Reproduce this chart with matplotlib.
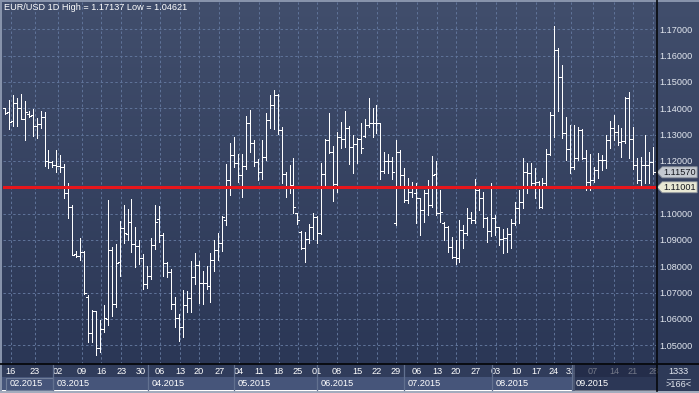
import numpy as np
import matplotlib
matplotlib.use("Agg")
import matplotlib.pyplot as plt
from matplotlib.patches import Rectangle, Polygon

plt.rcParams['font.family'] = ['Liberation Sans', 'DejaVu Sans']

# ---------------- data (EUR/USD daily) ----------------
opens = [
    1.1400, 1.1385, 1.1350, 1.1419, 1.1400, 1.1359, 1.1377, 1.1375, 1.1334, 1.1340,
    1.1366, 1.1200, 1.1195, 1.1185, 1.1182, 1.1178, 1.1077, 1.1026, 1.0846, 1.0840,
    1.0855, 1.0685, 1.0545, 1.0630, 1.0489, 1.0560, 1.0599, 1.0862, 1.0655, 1.0815,
    1.0944, 1.0922, 1.0967, 1.0885, 1.0877, 1.0830, 1.0732, 1.0763, 1.0881, 1.0980,
    1.0918, 1.0814, 1.0777, 1.0657, 1.0602, 1.0568, 1.0653, 1.0678, 1.0758, 1.0805,
    1.0735, 1.0735, 1.0725, 1.0824, 1.0862, 1.0887, 1.0976, 1.1128, 1.1223, 1.1191,
    1.1147, 1.1181, 1.1345, 1.1269, 1.1197, 1.1159, 1.1214, 1.1356, 1.1413, 1.1451,
    1.1318, 1.1151, 1.1100, 1.1109, 1.1001, 1.0930, 1.0868, 1.0903, 1.0950, 1.0988,
    1.0925, 1.1149, 1.1280, 1.1235, 1.1111, 1.1292, 1.1282, 1.1324, 1.1254, 1.1264,
    1.1282, 1.1295, 1.1337, 1.1345, 1.1345, 1.1343, 1.1163, 1.1201, 1.1201, 1.0965,
    1.1235, 1.1147, 1.1052, 1.1083, 1.1080, 1.1058, 1.1014, 1.1077, 1.1033, 1.1150,
    1.1004, 1.0965, 1.0948, 1.0872, 1.0836, 1.0830, 1.0938, 1.0925, 1.0982, 1.0976,
    1.1090, 1.1058, 1.0982, 1.0935, 1.0982, 1.0948, 1.0903, 1.0906, 1.0922, 1.0963,
    1.1020, 1.1045, 1.1159, 1.1153, 1.1115, 1.1121, 1.1026, 1.1118, 1.1228, 1.1375,
    1.1621, 1.1520, 1.1308, 1.1246, 1.1178, 1.1210, 1.1318, 1.1213, 1.1121, 1.1128,
    1.1166, 1.1204, 1.1204, 1.1280, 1.1324, 1.1311, 1.1273, 1.1276, 1.1438, 1.1285,
    1.1185, 1.1128, 1.1185, 1.1185, 1.1197,
]
highs = [
    1.1402, 1.1433, 1.1451, 1.1438, 1.1453, 1.1428, 1.1390, 1.1396, 1.1362, 1.1389,
    1.1385, 1.1242, 1.1200, 1.1242, 1.1223, 1.1187, 1.1115, 1.1033, 1.0858, 1.0906,
    1.0858, 1.0690, 1.0634, 1.0632, 1.0596, 1.0653, 1.1050, 1.0872, 1.0885, 1.0973,
    1.1033, 1.1016, 1.1054, 1.0948, 1.0900, 1.0847, 1.0801, 1.0906, 1.1033, 1.1029,
    1.0925, 1.0816, 1.0789, 1.0682, 1.0619, 1.0710, 1.0707, 1.0821, 1.0852, 1.0821,
    1.0783, 1.0801, 1.0849, 1.0900, 1.0925, 1.0991, 1.1188, 1.1269, 1.1290, 1.1226,
    1.1226, 1.1371, 1.1394, 1.1280, 1.1206, 1.1280, 1.1383, 1.1451, 1.1470, 1.1455,
    1.1330, 1.1160, 1.1185, 1.1210, 1.1003, 1.0935, 1.0931, 1.0961, 1.1003, 1.0991,
    1.1193, 1.1282, 1.1383, 1.1255, 1.1311, 1.1349, 1.1391, 1.1333, 1.1299, 1.1286,
    1.1345, 1.1358, 1.1438, 1.1400, 1.1413, 1.1345, 1.1235, 1.1226, 1.1216, 1.1280,
    1.1240, 1.1172, 1.1134, 1.1121, 1.1115, 1.1060, 1.1090, 1.1128, 1.1219, 1.1201,
    1.1090, 1.0970, 1.0953, 1.0913, 1.0900, 1.0976, 1.0957, 1.1020, 1.1007, 1.1130,
    1.1095, 1.1083, 1.0988, 1.1115, 1.0995, 1.0950, 1.0940, 1.0944, 1.0978, 1.1045,
    1.1090, 1.1213, 1.1191, 1.1191, 1.1172, 1.1125, 1.1134, 1.1245, 1.1386, 1.1714,
    1.1628, 1.1564, 1.1368, 1.1337, 1.1337, 1.1330, 1.1322, 1.1242, 1.1225, 1.1178,
    1.1232, 1.1223, 1.1299, 1.1352, 1.1375, 1.1337, 1.1324, 1.1444, 1.1461, 1.1330,
    1.1210, 1.1216, 1.1299, 1.1235, 1.1254,
]
lows = [
    1.1379, 1.1320, 1.1334, 1.1334, 1.1359, 1.1280, 1.1368, 1.1296, 1.1288, 1.1324,
    1.1181, 1.1174, 1.1178, 1.1157, 1.1159, 1.1060, 1.0985, 1.0843, 1.0836, 1.0824,
    1.0694, 1.0511, 1.0513, 1.0462, 1.0476, 1.0551, 1.0577, 1.0611, 1.0647, 1.0763,
    1.0890, 1.0900, 1.0855, 1.0798, 1.0809, 1.0713, 1.0716, 1.0751, 1.0865, 1.0893,
    1.0763, 1.0761, 1.0637, 1.0568, 1.0517, 1.0530, 1.0628, 1.0628, 1.0733, 1.0662,
    1.0657, 1.0713, 1.0666, 1.0783, 1.0824, 1.0859, 1.0957, 1.1071, 1.1176, 1.1121,
    1.1064, 1.1168, 1.1235, 1.1181, 1.1128, 1.1131, 1.1204, 1.1324, 1.1320, 1.1302,
    1.1115, 1.1062, 1.1080, 1.1001, 1.0961, 1.0865, 1.0817, 1.0887, 1.0903, 1.0887,
    1.0923, 1.1096, 1.1229, 1.1049, 1.1083, 1.1248, 1.1252, 1.1188, 1.1153, 1.1191,
    1.1229, 1.1292, 1.1328, 1.1292, 1.1305, 1.1130, 1.1153, 1.1155, 1.1130, 1.0957,
    1.1100, 1.1045, 1.1039, 1.1064, 1.0963, 1.0919, 1.0969, 1.0995, 1.1026, 1.0995,
    1.0970, 1.0900, 1.0855, 1.0830, 1.0809, 1.0815, 1.0868, 1.0920, 1.0963, 1.0963,
    1.1014, 1.0948, 1.0893, 1.0915, 1.0919, 1.0881, 1.0849, 1.0855, 1.0868, 1.0957,
    1.0963, 1.1020, 1.1077, 1.1109, 1.1058, 1.1020, 1.1020, 1.1109, 1.1222, 1.1292,
    1.1390, 1.1289, 1.1204, 1.1156, 1.1169, 1.1205, 1.1208, 1.1090, 1.1090, 1.1121,
    1.1134, 1.1166, 1.1175, 1.1248, 1.1280, 1.1261, 1.1216, 1.1270, 1.1210, 1.1170,
    1.1115, 1.1102, 1.1115, 1.1115, 1.1150,
]
closes = [
    1.1382, 1.1347, 1.1419, 1.1400, 1.1359, 1.1385, 1.1372, 1.1334, 1.1340, 1.1366,
    1.1200, 1.1195, 1.1185, 1.1182, 1.1178, 1.1077, 1.1026, 1.0843, 1.0840, 1.0855,
    1.0697, 1.0545, 1.0630, 1.0489, 1.0560, 1.0602, 1.0862, 1.0655, 1.0812, 1.0944,
    1.0925, 1.0967, 1.0885, 1.0877, 1.0830, 1.0732, 1.0763, 1.0881, 1.0967, 1.0918,
    1.0814, 1.0777, 1.0657, 1.0602, 1.0568, 1.0653, 1.0678, 1.0758, 1.0805, 1.0735,
    1.0735, 1.0725, 1.0824, 1.0862, 1.0887, 1.0986, 1.1128, 1.1223, 1.1191, 1.1147,
    1.1181, 1.1345, 1.1269, 1.1197, 1.1159, 1.1214, 1.1356, 1.1413, 1.1451, 1.1318,
    1.1151, 1.1100, 1.1109, 1.1024, 1.0976, 1.0868, 1.0903, 1.0950, 1.0988, 1.0925,
    1.1149, 1.1280, 1.1235, 1.1111, 1.1292, 1.1282, 1.1324, 1.1254, 1.1264, 1.1282,
    1.1248, 1.1337, 1.1345, 1.1345, 1.1343, 1.1163, 1.1201, 1.1201, 1.1159, 1.1235,
    1.1147, 1.1052, 1.1083, 1.1100, 1.1058, 1.1014, 1.1077, 1.1033, 1.1147, 1.1004,
    1.1007, 1.0948, 1.0872, 1.0836, 1.0830, 1.0938, 1.0925, 1.0982, 1.0976, 1.1090,
    1.1058, 1.0982, 1.0935, 1.0982, 1.0948, 1.0903, 1.0906, 1.0922, 1.0963, 1.1020,
    1.1045, 1.1159, 1.1153, 1.1115, 1.1121, 1.1026, 1.1118, 1.1228, 1.1375, 1.1621,
    1.1520, 1.1308, 1.1246, 1.1178, 1.1210, 1.1318, 1.1213, 1.1121, 1.1128, 1.1166,
    1.1204, 1.1204, 1.1280, 1.1324, 1.1311, 1.1273, 1.1276, 1.1438, 1.1285, 1.1185,
    1.1128, 1.1185, 1.1185, 1.1197, 1.1157,
]

day_labels = ["16", "23", "02", "09", "16", "23", "30", "06", "13", "20", "27",
              "04", "11", "18", "25", "01", "08", "15", "22", "29", "06", "13",
              "20", "27", "03", "10", "17", "24", "31", "07", "14", "21", "28"]
day_ticks = [1.4, 7.6, 13.4, 19.4, 24.4, 29.4, 34.3, 39.2, 44.3, 49.1, 54.2,
             59.2, 64.3, 69.3, 74.1, 79.0, 84.0, 89.1, 94.1, 98.9, 104.2, 109.3,
             114.1, 119.2, 124.2, 129.3, 134.4, 138.9, 143.2, 148.8, 154.1, 158.9, 164.0]
price_ticks = [1.05, 1.06, 1.07, 1.08, 1.09, 1.10, 1.11, 1.12, 1.13, 1.14, 1.15, 1.16, 1.17]
month_labels = ["02.2015", "03.2015", "04.2015", "05.2015", "06.2015", "07.2015", "08.2015", "09.2015"]
month_starts_px = [5, 53, 148, 234, 317, 404, 492, 572]

title = "EUR/USD 1D High = 1.17137 Low = 1.04621"
last_close = 1.11570
level = 1.11001
corner_top = "1333"
corner_bottom = ">166<"

# ---------------- figure ----------------
W, H = 699, 393
fig = plt.figure(figsize=(W / 100, H / 100), dpi=100)

FS = 6.6
TXT = '#e2e7ef'

# background (pixel coordinates)
bg = fig.add_axes([0, 0, 1, 1], zorder=0)
bg.axis('off')
g = np.linspace(0, 1, 256)[:, None, None]
top_c = np.array([0x41, 0x4e, 0x6c]) / 255
bot_c = np.array([0x2b, 0x37, 0x56]) / 255
img = top_c + (bot_c - top_c) * g
bg.imshow(img, extent=(0, W, 364, 0), aspect='auto', interpolation='bilinear')
bg.add_patch(Rectangle((0, 364), W, 13, color='#303c5b', lw=0))
bg.add_patch(Rectangle((0, 377), 657, 13, color='#46557a', lw=0))
bg.add_patch(Rectangle((657, 364), W - 657, 29, color='#2e3a58', lw=0))
bg.set_xlim(0, W)
bg.set_ylim(H, 0)

# main price axes
ax = fig.add_axes([3 / W, 1 - 364 / H, 653 / W, 362 / H], zorder=1)
ax.set_facecolor('none')
n = len(closes)
x = np.arange(n)
o = np.array(opens); hi = np.array(highs); lo = np.array(lows); c = np.array(closes)
tw = 0.5
LW = 0.5
ax.vlines(x, lo, hi, colors='white', lw=LW, antialiased=False, zorder=3)
ax.hlines(o, x - tw, x, colors='white', lw=LW, antialiased=False, zorder=3)
ax.hlines(c, x, x + tw, colors='white', lw=LW, antialiased=False, zorder=3)
ax.axhline(level, color='#e8161b', lw=2.2, zorder=4)

ax.set_xlim(-0.506, 164.73)
ax.set_ylim(1.04289, 1.18038)
ax.set_xticks(day_ticks)
ax.set_xticklabels(day_labels)
ax.set_yticks(price_ticks)
ax.set_yticklabels(['' if abs(v - 1.11) < 1e-9 else f"{v:.5f}" for v in price_ticks])
ax.yaxis.tick_right()
ax.tick_params(axis='y', length=0, pad=2.6, labelsize=FS, labelcolor=TXT)
ax.tick_params(axis='x', length=0, pad=2.0, labelsize=FS, labelcolor='white')
ax.grid(True, color='#60749a', lw=0.7, linestyle=(0, (2.5, 2.5)))
ax.set_axisbelow(True)
for s in ax.spines.values():
    s.set_visible(False)

# price markers on the right scale
ytr = ax.get_yaxis_transform()
hh = 5.5 / 2633.0
for val, fc in [(last_close, '#c4c9d0'), (level, '#e8e8d4')]:
    pts = [(1.0015, val), (1.0095, val + hh), (1.0630, val + hh),
           (1.0630, val - hh), (1.0095, val - hh)]
    ax.add_patch(Polygon(pts, closed=True, transform=ytr, clip_on=False,
                         facecolor=fc, edgecolor='#8a909a', lw=0.6, zorder=10))
    ax.text(1.0365, val, f"{val:.5f}", transform=ytr, ha='center', va='center',
            fontsize=FS, color='#15181f', zorder=11, clip_on=False)

# overlay (pixel coordinates)
ov = fig.add_axes([0, 0, 1, 1], zorder=3)
ov.set_facecolor('none')
ov.axis('off')
ov.set_xlim(0, W)
ov.set_ylim(H, 0)

ov.text(4, 7.8, title, color='white', fontsize=FS, ha='left', va='center')

# month row
for i, (lab, x0) in enumerate(zip(month_labels, month_starts_px)):
    if i > 0:
        ov.plot([x0, x0], [365, 390], color='#627190', lw=0.9)
    ov.text(x0 + (5 if i == 0 else 3.5), 383.6, lab, color='white', fontsize=FS,
            ha='left', va='center')
ov.add_patch(Rectangle((5.5, 378), 47, 11.5, fill=False, edgecolor='#6f7d99', lw=0.8))

# dimmed (current) period
ov.add_patch(Rectangle((573, 365), 83.5, 25.5, color='#1d2540', alpha=0.62, lw=0))
ov.plot([573.5, 573.5], [365, 390], color='#505b77', lw=1.2)

# separators
ov.plot([0, W], [364.3, 364.3], color='#06080c', lw=1.3)
ov.plot([656.5, 656.5], [0, 390.5], color='#06080c', lw=1.2)

# corner counter
ov.text(678.5, 372, corner_top, color=TXT, fontsize=FS, ha='center', va='center')
ov.plot([667, 690], [378.6, 378.6], color='#aab4c6', lw=0.6)
ov.text(678.5, 384.6, corner_bottom, color=TXT, fontsize=FS, ha='center', va='center')

# window frame
ov.add_patch(Rectangle((0, 390.5), W, 2.5, color='#a3acbd', lw=0))
ov.add_patch(Rectangle((0, 0), W, 1.5, color='#8793ab', lw=0))
ov.add_patch(Rectangle((0, 0), 1.8, 391, color='#8793ab', lw=0))

fig.savefig('out.png', dpi=100)
